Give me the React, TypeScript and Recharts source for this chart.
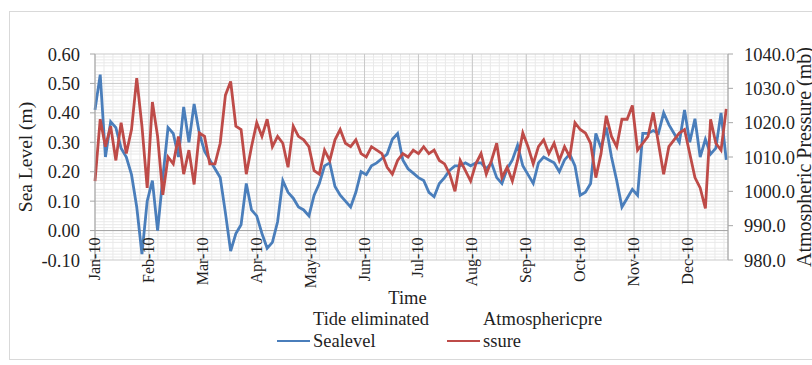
import { LineChart, Line, XAxis, YAxis, CartesianGrid, ReferenceLine } from 'recharts';

// Daily record of 2010, one reading every 3 days
const STEP_DAYS = 3;

// Tide eliminated sea level (m)
const SEA_LEVEL = [
    0.41, 0.53, 0.25, 0.37, 0.35, 0.28, 0.25, 0.19, 0.08, -0.08,
    0.10, 0.17, 0.00, 0.18, 0.35, 0.33, 0.25, 0.42, 0.30, 0.43,
    0.33, 0.27, 0.24, 0.21, 0.18, 0.06, -0.07, -0.01, 0.02, 0.16,
    0.07, 0.05, -0.01, -0.06, -0.04, 0.03, 0.17, 0.13, 0.11, 0.08,
    0.07, 0.05, 0.12, 0.16, 0.22, 0.23, 0.15, 0.12, 0.10, 0.08,
    0.13, 0.20, 0.19, 0.22, 0.23, 0.245, 0.26, 0.31, 0.33, 0.24,
    0.21, 0.195, 0.18, 0.17, 0.13, 0.115, 0.16, 0.18, 0.205, 0.22,
    0.22, 0.23, 0.22, 0.23, 0.23, 0.21, 0.23, 0.18, 0.16, 0.21,
    0.24, 0.29, 0.22, 0.19, 0.16, 0.23, 0.25, 0.24, 0.23, 0.20,
    0.24, 0.26, 0.22, 0.12, 0.13, 0.16, 0.33, 0.28, 0.35, 0.25,
    0.17, 0.08, 0.11, 0.14, 0.12, 0.33, 0.33, 0.34, 0.33, 0.40,
    0.36, 0.33, 0.30, 0.41, 0.30, 0.38, 0.25, 0.31, 0.26, 0.28,
    0.40, 0.24,
];

// Atmospheric pressure (mb)
const PRESSURE = [
    1003, 1021, 1013, 1019, 1009, 1020, 1011, 1018, 1033, 1019,
    1001, 1026, 1016, 999, 1010, 1008, 1016, 1005, 1012, 1002,
    1017, 1016, 1008, 1008, 1014, 1028, 1032, 1019, 1018, 1005,
    1013, 1020, 1016, 1021, 1013, 1016, 1014, 1007, 1019, 1016,
    1015, 1013, 1006, 1005, 1012, 1009, 1015, 1018, 1014, 1013,
    1015, 1011, 1010, 1013, 1012, 1011, 1007, 1005, 1009, 1011,
    1010, 1012, 1011, 1013, 1011, 1012, 1009, 1008, 1005, 1000,
    1009, 1006, 1003, 1008, 1011, 1005, 1009, 1014, 1004, 1007,
    1003, 1009, 1017, 1013, 1008, 1013, 1015, 1011, 1014, 1009,
    1013, 1010, 1020, 1018, 1017, 1014, 1004, 1011, 1022, 1016,
    1013, 1021, 1021, 1025, 1012, 1014, 1016, 1023, 1014, 1005,
    1013, 1015, 1017, 1018, 1011, 1004, 1001, 995, 1021, 1014,
    1012, 1024,
];

const MONTHS = ['Jan-10', 'Feb-10', 'Mar-10', 'Apr-10', 'May-10', 'Jun-10',
    'Jul-10', 'Aug-10', 'Sep-10', 'Oct-10', 'Nov-10', 'Dec-10'];
// category labels every 31 days
const MONTH_DAYS = MONTHS.map((_, i) => i * 31);
const LAST_DAY = 364;

const SEA_TICKS = [-0.1, 0, 0.1, 0.2, 0.3, 0.4, 0.5, 0.6];
const PRESSURE_TICKS = [980, 990, 1000, 1010, 1020, 1030, 1040];

// minor gridlines: 6 per month, 5 per 0.1 m
const MINOR_DAYS: number[] = [];
for (let d = 31 / 6; d < LAST_DAY; d += 31 / 6) MINOR_DAYS.push(d);
const MINOR_SEA: number[] = [];
for (let i = -9; i < 60; i++) if (i % 5 !== 0) MINOR_SEA.push(i / 100);

const BLUE = '#4a7ebb';
const RED = '#be4b48';
const FONT = '"Liberation Serif", serif';
const TEXT = '#1f1f1f';

const WIDTH = 812;
const HEIGHT = 365;
const MARGIN = { top: 54, right: 12, bottom: 0, left: 10 };
const X_AXIS_H = 105;
const PLOT_H = HEIGHT - MARGIN.top - MARGIN.bottom - X_AXIS_H;
// Excel lets the category axis cross at 0.00, so labels sit above the plot bottom
const ZERO_SHIFT = (PLOT_H * (0 - SEA_TICKS[0])) / (SEA_TICKS[SEA_TICKS.length - 1] - SEA_TICKS[0]);

const data = SEA_LEVEL.map((v, i) => ({
    day: i * STEP_DAYS,
    sea: v,
    pressure: PRESSURE[i],
}));

function MonthTick({ x, y, payload }: any) {
    const idx = MONTH_DAYS.indexOf(payload.value);
    const top = y - ZERO_SHIFT + 7;
    return (
        <text
            x={x + 5}
            y={top}
            transform={`rotate(-90 ${x + 5} ${top})`}
            textAnchor="end"
            fontSize={16}
            fontFamily={FONT}
            fill={TEXT}
        >
            {MONTHS[idx]}
        </text>
    );
}

function ChartLegend() {
    const entry = (color: string, first: string, second: string, width: number) => (
        <div style={{ display: 'flex', alignItems: 'flex-end', width }}>
            <div style={{ width: 33, height: 2, background: color, marginBottom: 10, marginRight: 3 }} />
            <div style={{ lineHeight: '22px', whiteSpace: 'nowrap' }}>
                {first}
                <br />
                {second}
            </div>
        </div>
    );
    return (
        <div
            style={{
                position: 'absolute',
                top: 308,
                left: 277,
                display: 'flex',
                fontFamily: FONT,
                fontSize: 18.5,
                color: TEXT,
            }}
        >
            {entry(BLUE, 'Tide eliminated', 'Sealevel', 170)}
            {entry(RED, 'Atmosphericpre', 'ssure', 180)}
        </div>
    );
}

export default function App() {
    const tickStyle = { fontSize: 18.5, fontFamily: FONT, fill: TEXT };

    return (
        <div style={{ position: 'absolute', left: 0, top: 0, width: WIDTH, height: HEIGHT, background: '#fff', overflow: 'hidden' }}>
            <div style={{ position: 'absolute', left: 9, top: 11, width: WIDTH, height: 347, border: '1px solid #d9d9d9' }} />
            <LineChart width={WIDTH} height={HEIGHT} data={data} margin={MARGIN}>
                {/* minor grid */}
                <CartesianGrid
                    xAxisId="x"
                    yAxisId="left"
                    stroke="#e9e9e9"
                    verticalCoordinatesGenerator={({ xAxis, offset }: any) =>
                        MINOR_DAYS.map((d) =>
                            xAxis && typeof xAxis.scale === 'function'
                                ? xAxis.scale(d)
                                : offset.left + (offset.width * d) / LAST_DAY
                        )
                    }
                    horizontalCoordinatesGenerator={({ yAxis, offset }: any) =>
                        MINOR_SEA.map((v) =>
                            yAxis && typeof yAxis.scale === 'function'
                                ? yAxis.scale(v)
                                : offset.top + (offset.height * (0.6 - v)) / 0.7
                        )
                    }
                />
                {/* major grid */}
                <CartesianGrid xAxisId="x" yAxisId="left" stroke="#c9c9c9" />
                <XAxis
                    xAxisId="x"
                    dataKey="day"
                    type="number"
                    domain={[0, LAST_DAY]}
                    ticks={MONTH_DAYS}
                    interval={0}
                    axisLine={false}
                    tickLine={false}
                    tickSize={0}
                    tickMargin={0}
                    height={X_AXIS_H}
                    tick={<MonthTick />}
                    label={{
                        content: ({ viewBox }: any) => (
                            <text
                                x={viewBox.x + viewBox.width / 2 - 4}
                                y={viewBox.y + 44}
                                textAnchor="middle"
                                fontSize={18.5}
                                fontFamily={FONT}
                                fill={TEXT}
                            >
                                Time
                            </text>
                        ),
                    }}
                />
                <YAxis
                    yAxisId="left"
                    domain={[SEA_TICKS[0], SEA_TICKS[SEA_TICKS.length - 1]]}
                    ticks={SEA_TICKS}
                    tickFormatter={(v: number) => v.toFixed(2)}
                    allowDataOverflow
                    width={85}
                    stroke="#a6a6a6"
                    tickSize={5}
                    tickMargin={10}
                    tick={tickStyle}
                    label={{
                        content: ({ viewBox }: any) => {
                            const cx = 32;
                            const cy = viewBox.y + viewBox.height / 2;
                            return (
                                <text
                                    x={cx}
                                    y={cy}
                                    transform={`rotate(-90 ${cx} ${cy})`}
                                    textAnchor="middle"
                                    fontSize={19.5}
                                    fontFamily={FONT}
                                    fill={TEXT}
                                >
                                    Sea Level (m)
                                </text>
                            );
                        },
                    }}
                />
                <YAxis
                    yAxisId="right"
                    orientation="right"
                    domain={[PRESSURE_TICKS[0], PRESSURE_TICKS[PRESSURE_TICKS.length - 1]]}
                    ticks={PRESSURE_TICKS}
                    tickFormatter={(v: number) => v.toFixed(1)}
                    allowDataOverflow
                    width={72}
                    stroke="#a6a6a6"
                    tickSize={5}
                    tickMargin={11}
                    tick={tickStyle}
                    label={{
                        content: ({ viewBox }: any) => {
                            const cx = 811;
                            const cy = viewBox.y + viewBox.height / 2;
                            return (
                                <text
                                    x={cx}
                                    y={cy}
                                    transform={`rotate(-90 ${cx} ${cy})`}
                                    textAnchor="middle"
                                    fontSize={20}
                                    fontFamily={FONT}
                                    fill={TEXT}
                                >
                                    Atmospheric Pressure (mb)
                                </text>
                            );
                        },
                    }}
                />
                {/* category axis line at 0.00 */}
                <ReferenceLine xAxisId="x" yAxisId="left" y={0} stroke="#a6a6a6" />
                <Line
                    xAxisId="x"
                    yAxisId="left"
                    dataKey="sea"
                    name="Tide eliminated Sealevel"
                    stroke={BLUE}
                    strokeWidth={2.8}
                    dot={false}
                    isAnimationActive={false}
                />
                <Line
                    xAxisId="x"
                    yAxisId="right"
                    dataKey="pressure"
                    name="Atmosphericpressure"
                    stroke={RED}
                    strokeWidth={2.8}
                    dot={false}
                    isAnimationActive={false}
                />
            </LineChart>
            <ChartLegend />
        </div>
    );
}
